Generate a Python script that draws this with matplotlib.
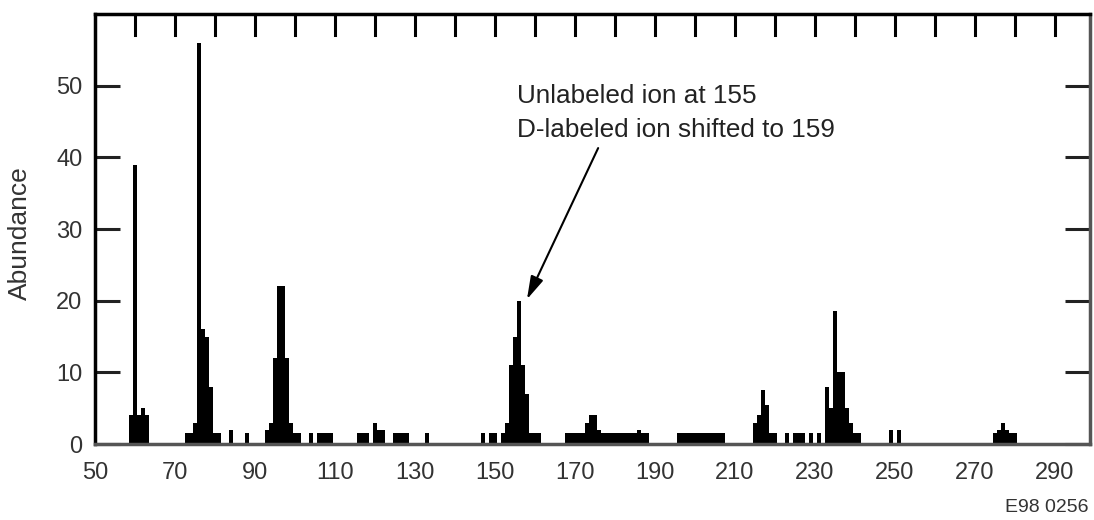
import matplotlib.pyplot as plt

plt.rcParams['font.family'] = ['Liberation Sans', 'DejaVu Sans']

# m/z values and their abundances
mz = [59, 60, 61, 62, 63,
      73, 74, 75, 76, 77, 78, 79, 80, 81, 84, 88,
      93, 94, 95, 96, 97, 98, 99, 100, 101, 104, 106, 107, 108, 109,
      116, 117, 118, 120, 121, 122, 125, 126, 127, 128, 133,
      147, 149, 150, 152, 153, 154, 155, 156, 157, 158, 159, 160, 161,
      168, 169, 170, 171, 172, 173, 174, 175, 176, 177, 178, 179, 180,
      181, 182, 183, 184, 185, 186, 187, 188,
      196, 197, 198, 199, 200, 201, 202, 203, 204, 205, 206, 207,
      215, 216, 217, 218, 219, 220, 223, 225, 226, 227, 229, 231,
      233, 234, 235, 236, 237, 238, 239, 240, 241,
      249, 251,
      275, 276, 277, 278, 279, 280]
abundance = [4, 39, 4, 5, 4,
             1.5, 1.5, 3, 56, 16, 15, 8, 1.5, 1.5, 2, 1.5,
             2, 3, 12, 22, 22, 12, 3, 1.5, 1.5, 1.5, 1.5, 1.5, 1.5, 1.5,
             1.5, 1.5, 1.5, 3, 2, 2, 1.5, 1.5, 1.5, 1.5, 1.5,
             1.5, 1.5, 1.5, 1.5, 3, 11, 15, 20, 11, 7, 1.5, 1.5, 1.5,
             1.5, 1.5, 1.5, 1.5, 1.5, 3, 4, 4, 2, 1.5, 1.5, 1.5, 1.5,
             1.5, 1.5, 1.5, 1.5, 1.5, 2, 1.5, 1.5,
             1.5, 1.5, 1.5, 1.5, 1.5, 1.5, 1.5, 1.5, 1.5, 1.5, 1.5, 1.5,
             3, 4, 7.5, 5.5, 1.5, 1.5, 1.5, 1.5, 1.5, 1.5, 1.5, 1.5,
             8, 5, 18.5, 10, 10, 5, 3, 1.5, 1.5,
             2, 2,
             1.5, 2, 3, 2, 1.5, 1.5]

x_labels = list(range(50, 300, 20))
top_ticks = list(range(60, 300, 10))
y_ticks = [0, 10, 20, 30, 40, 50]

fig = plt.figure(figsize=(10.94, 5.2), dpi=100)
ax = fig.add_axes([0.0868, 0.146, 0.9095, 0.827])

ax.bar(mz, abundance, width=1.0, color='black', linewidth=0)

ax.set_xlim(50, 298.75)
ax.set_ylim(0, 60)

ax.set_xticks(x_labels)
ax.tick_params(axis='x', which='both', bottom=False, top=False, length=0,
               labelsize=17, labelcolor='#333333', pad=13)
ax.set_yticks(y_ticks)
ax.tick_params(axis='y', direction='in', length=18, width=2.2,
               left=True, right=True, labelsize=17, labelcolor='#333333',
               color='#222222', pad=9)

# tick marks hanging from the top spine
for t in top_ticks:
    ax.plot([t, t], [60, 57.1], color='black', lw=2.2, clip_on=False)

ax.set_ylabel('Abundance', fontsize=19, color='#333333')
ax.yaxis.set_label_coords(-0.063, 0.49)

for side in ['left', 'top']:
    ax.spines[side].set_linewidth(2.5)
    ax.spines[side].set_color('black')
for side in ['right', 'bottom']:
    ax.spines[side].set_linewidth(2.5)
    ax.spines[side].set_color('#555555')

ax.text(155.5, 48.5, 'Unlabeled ion at 155', fontsize=18.8, color='#222222',
        ha='left', va='center')
ax.text(155.5, 43.8, 'D-labeled ion shifted to 159', fontsize=18.8,
        color='#222222', ha='left', va='center')
ax.annotate('', xy=(158, 20.2), xytext=(175.8, 41.3),
            arrowprops=dict(arrowstyle='-|>,head_length=1.4,head_width=0.4',
                            color='black', lw=1.5,
                            shrinkA=0, shrinkB=0))

fig.text(0.995, 0.024, 'E98 0256', fontsize=14, color='#333333',
         ha='right', va='center')

fig.savefig('out.png', dpi=100)
